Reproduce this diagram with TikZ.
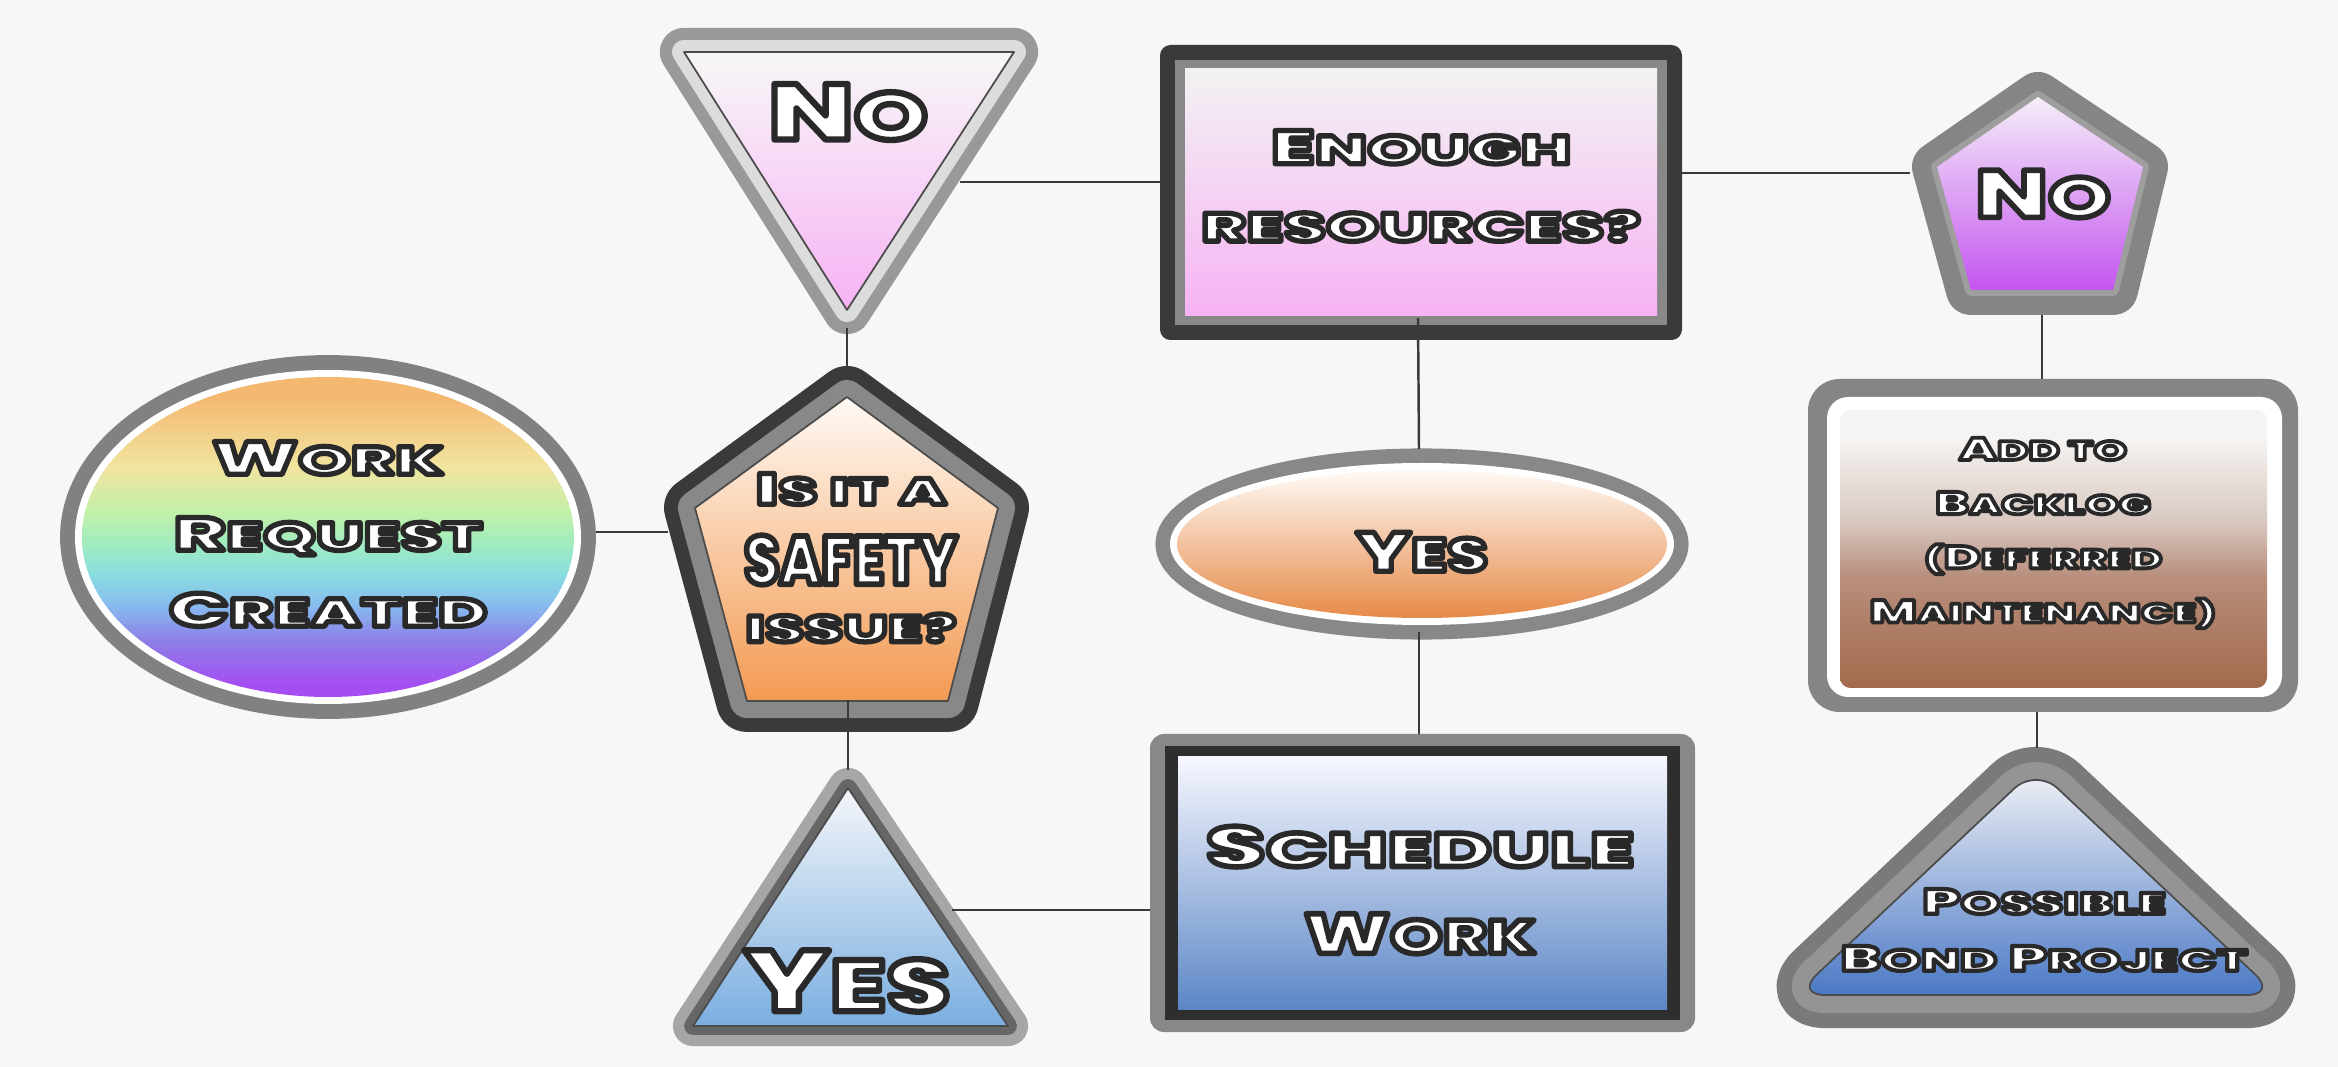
\documentclass[tikz,border=0pt]{standalone}
\usepackage{fontspec}
\newfontfamily\cpw[FakeStretch=1.72]{Poppins ExtraBold}
\newfontfamily\cpm[FakeStretch=1.6]{Poppins ExtraBold}
\newfontfamily\cpn[FakeStretch=1.42]{Poppins ExtraBold}
\newfontfamily\cps[FakeStretch=0.82]{Poppins ExtraBold}
\newcommand\smc[1]{{\fontsize{\smsz}{\smsz}\selectfont #1}}
\newcommand\fz[2]{\fontsize{#1}{#2}\selectfont\pgfmathsetmacro\smsz{0.84*#1}}
% white text with a dark outline: fill + stroke in one text (render mode 2)
\newcommand\ct[2][1.5]{\special{pdf:literal direct 2 Tr 1 j 1 J #1 w 0.16 0.16 0.16 RG}#2\special{pdf:literal direct 0 Tr}}

\definecolor{bg}{HTML}{F9F7F6}
\definecolor{conn}{HTML}{3A3A3A}
\definecolor{dk}{HTML}{3A3A3A}
\definecolor{gr}{HTML}{888888}
\definecolor{lg}{HTML}{DCDCDC}
\definecolor{rb1}{HTML}{F4B870}
\definecolor{rb2}{HTML}{F1E4A0}
\definecolor{rb3}{HTML}{C4F0A8}
\definecolor{rb4}{HTML}{A0ECC0}
\definecolor{rb5}{HTML}{88DCE0}
\definecolor{rb6}{HTML}{88B8F0}
\definecolor{rb7}{HTML}{8C80E6}
\definecolor{rb8}{HTML}{A44EF2}
\definecolor{br1}{HTML}{F6F4F2}
\definecolor{br2}{HTML}{D8C8C0}
\definecolor{br3}{HTML}{B88E7C}
\definecolor{br4}{HTML}{A26A4C}
\definecolor{pu1}{HTML}{F5EEF8}
\definecolor{pu2}{HTML}{DFA2F2}
\definecolor{pu3}{HTML}{C455F0}
\definecolor{bl1}{HTML}{F4F6F9}
\definecolor{bl2}{HTML}{BCD2EA}
\definecolor{bl3}{HTML}{7AAEE0}
\definecolor{bd1}{HTML}{F2F3F6}
\definecolor{bd2}{HTML}{9DB3D8}
\definecolor{bd3}{HTML}{4B79C6}
\definecolor{sc2}{HTML}{B6C9E3}
\definecolor{sc3}{HTML}{5C87C6}
\definecolor{or2}{HTML}{F5BE96}
\definecolor{or3}{HTML}{F39A52}
\definecolor{ye2}{HTML}{EEC3A2}
\definecolor{ye3}{HTML}{E68A48}
\definecolor{pk2}{HTML}{F4D6F0}
\definecolor{pk3}{HTML}{F7B2F4}
\pgfdeclareverticalshading{rainbowsh}{100bp}{color(0bp)=(rb8); color(27bp)=(rb8); color(34bp)=(rb7); color(39bp)=(rb6); color(44bp)=(rb5); color(49bp)=(rb4); color(54bp)=(rb3); color(61bp)=(rb2); color(72bp)=(rb1); color(100bp)=(rb1)}
\pgfdeclareverticalshading{brownsh}{100bp}{color(0bp)=(br4); color(25bp)=(br4); color(45bp)=(br3); color(55bp)=(br2); color(70bp)=(br1); color(100bp)=(br1)}

\tikzset{
  txt/.style={inner sep=0pt, align=center, text=white},
  wline/.style={draw=conn, line width=0.7pt},
  thinout/.style={draw=black!70, line width=0.5pt},
}

\begin{document}
\begin{tikzpicture}[x=0.01cm, y=-0.01cm, line join=round]
\useasboundingbox (0,0) rectangle (2338,1067);
\fill[bg] (0,0) rectangle (2338,1067);

% ---------- Work Request Created (ellipse)
\draw[gr!95!black, line width=4.5pt] (328,537) ellipse [x radius=260, y radius=174];
\fill[white] (328,537) ellipse [x radius=253, y radius=167];
\shade[shading=rainbowsh] (328,537) ellipse [x radius=246, y radius=160];

% ---------- Safety pentagon
\def\sfpath{(847,397) -- (998,508) -- (948,701) -- (747,701) -- (695,508) -- cycle}
\draw[dk, line width=17.6pt] \sfpath;
\draw[gr, line width=9.7pt] \sfpath;
\path[thinout, top color=white!96!orange, middle color=or2, bottom color=or3] \sfpath;

% ---------- No (inverted triangle)
\def\ntpath{(684,52) -- (1014,52) -- (847,310) -- cycle}
\draw[black!40, line width=13.7pt] \ntpath;
\draw[lg, line width=6.8pt] \ntpath;
\path[thinout, top color=white!97!black, middle color=pk2, bottom color=pk3] \ntpath;

% ---------- Enough resources? (rectangle)
\fill[dk, rounded corners=3pt] (1160,45) rectangle (1682,340);
\fill[gr] (1175,60) rectangle (1667,325);
\path[top color=white!95!black, middle color=pk2, bottom color=pk3] (1185,69) rectangle (1657,316);

% ---------- No (pentagon, right)
\def\nppath{(2038,97) -- (2143,167) -- (2113,290) -- (1971,290) -- (1937,167) -- cycle}
\draw[black!48, line width=14.2pt] \nppath;
\draw[black!38, line width=3.4pt] \nppath;
\path[top color=pu1, middle color=pu2, bottom color=pu3] \nppath;

% ---------- Yes (ellipse, middle)
\draw[gr, line width=4.3pt] (1422,544) ellipse [x radius=259, y radius=88];
\fill[white] (1422,544) ellipse [x radius=252, y radius=81];
\shade[top color=white!96!orange, middle color=ye2, bottom color=ye3] (1422,544) ellipse [x radius=245, y radius=74];

% ---------- Schedule Work (rectangle)
\fill[gr, rounded corners=4pt] (1150,734) rectangle (1695,1032);
\fill[black!82] (1165,746) rectangle (1680,1020);
\path[top color=white!97!blue, middle color=sc2, bottom color=sc3] (1178,757) rectangle (1667,1009);

% ---------- Yes (triangle)
\def\ytpath{(848,788) -- (1008,1026) -- (693,1026) -- cycle}
\draw[black!35, line width=11.4pt] \ytpath;
\draw[black!60, line width=5.1pt] \ytpath;
\path[thinout, top color=bl1, middle color=bl2, bottom color=bl3] \ytpath;

% ---------- Add to Backlog (rounded rectangle)
\fill[black!48, rounded corners=9pt] (1808,379) rectangle (2298,712);
\fill[white, rounded corners=6pt] (1827,397) rectangle (2282,697);
\shade[shading=brownsh, rounded corners=3pt] (1840,410) rectangle (2267,688);

% ---------- Possible Bond Project (rounded triangle)
\def\bppath{[rounded corners=8.5pt] (2036,768) -- (2277,995) -- (1795,995) -- cycle}
\draw[black!52, line width=18.8pt] \bppath;
\draw[black!42, line width=10.2pt] \bppath;
\path[thinout, top color=bd1, middle color=bd2, bottom color=bd3] \bppath;

% ---------- connector end points
\coordinate (wrE) at (596,532);  \coordinate (sfW) at (668,532);
\coordinate (ntS) at (847,328);  \coordinate (sfN) at (847,366);
\coordinate (ntE) at (960,182);  \coordinate (enW) at (1160,182);
\coordinate (enE) at (1682,173); \coordinate (npW) at (1910,173);
\coordinate (enS) at (1418,318); \coordinate (yeN) at (1419,449);
\coordinate (npS) at (2042,315); \coordinate (blN) at (2042,379);
\coordinate (sfS) at (848,700);  \coordinate (ytN) at (848,770);
\coordinate (ytE) at (952,910);  \coordinate (swW) at (1150,910);
\coordinate (yeS) at (1419,632); \coordinate (swN) at (1419,734);
\coordinate (blS) at (2037,712); \coordinate (bpN) at (2037,748);

\draw[wline] (wrE) -- (sfW);
\draw[wline] (ntS) -- (sfN);
\draw[wline] (ntE) -- (enW);
\draw[wline] (enE) -- (npW);
\draw[wline] (enS) -- (yeN);
\draw[wline] (npS) -- (blN);
\draw[wline] (sfS) -- (ytN);
\draw[wline] (ytE) -- (swW);
\draw[wline] (yeS) -- (swN);
\draw[wline] (blS) -- (bpN);

% ---------- texts
\node[txt, font=\cpw\fz{13.2}{21.6}] (wrt) at (328,534)
  {\ct{W\smc{ORK}}\\ \ct{R\smc{EQUEST}}\\ \ct{C\smc{REATED}}};
\node[txt, font=\cpw\fz{12.4}{16}] (sft1) at (851,489) {\ct{I\smc{S IT A}}};
\node[txt, font=\cps\fz{19.5}{22}] (sft2) at (851,560) {\ct[1.6]{SAFETY}};
\node[txt, font=\cpw\fz{12.4}{16}] (sft3) at (851,628) {\ct{\smc{ISSUE?}}};
\node[txt, font=\cpn\fz{22.4}{26}] (ntt) at (848,112) {\ct[1.8]{N\smc{O}}};
\node[txt, font=\cpw\fz{13.4}{22}] (ent) at (1421,186)
  {\ct{E\smc{NOUGH}}\\ \ct{\smc{RESOURCES?}}};
\node[txt, font=\cpn\fz{19}{22}] (npt) at (2043,194) {\ct[1.6]{N\smc{O}}};
\node[txt, font=\cpn\fz{15.7}{18}] (yet) at (1422,552) {\ct{Y\smc{ES}}};
\node[txt, font=\cpw\fz{16}{24.7}] (swt) at (1420,890)
  {\ct[1.6]{S\smc{CHEDULE}}\\ \ct[1.6]{\cpn W\smc{ORK}}};
\node[txt, font=\cpn\fz{24.6}{26}] (ytt) at (847,981) {\ct[1.8]{Y\smc{ES}}};
\node[txt, font=\cpm\fz{9.0}{15.4}] (blt) at (2043,533)
  {\ct[1.1]{A\smc{DD TO}}\\ \ct[1.1]{B\smc{ACKLOG}}\\ \ct[1.1]{\smc{(}D\smc{EFERRED}}\\ \ct[1.1]{M\smc{AINTENANCE)}}};
\node[txt, font=\cpw\fz{10.0}{16.2}] (bpt) at (2044,930)
  {\ct[1.2]{P\smc{OSSIBLE}}\\ \ct[1.2]{B\smc{OND} P\smc{ROJECT}}};
\end{tikzpicture}
\end{document}
